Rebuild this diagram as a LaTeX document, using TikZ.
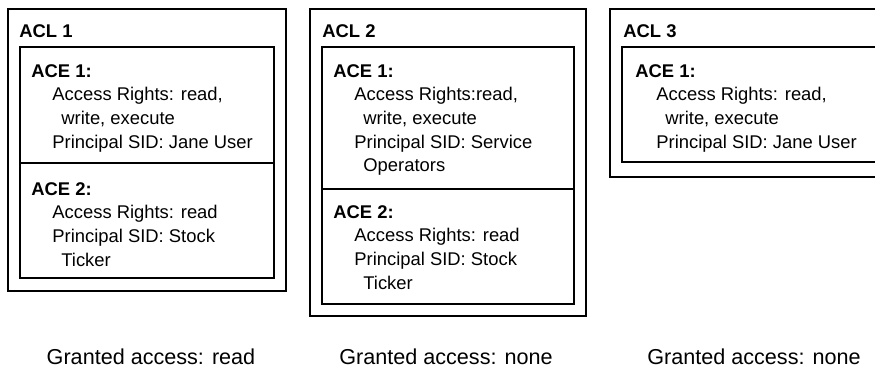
\documentclass[tikz,border=0pt]{standalone}
\usepackage{fontspec}
\setmainfont{Liberation Sans}

\newcommand{\lvlone}{\hspace*{10.5pt}}
\newcommand{\lvltwo}{\hspace*{15pt}}

\tikzset{
  box/.style={line width=1.1pt},
  acltitle/.style={anchor=base west, inner sep=0pt, font=\fontsize{9.2}{11.8}\selectfont\bfseries},
  entry/.style={anchor=north west, inner sep=0pt, align=left, font=\fontsize{9.2}{11.8}\selectfont},
  verdict/.style={anchor=base, inner sep=0pt, font=\fontsize{10.8}{13}\selectfont}
}

\begin{document}
\begin{tikzpicture}[x=0.5pt,y=0.5pt]
    \useasboundingbox (0,0) rectangle (875,367);
    \clip (0,0) rectangle (875,367);

    % ACL 1
    \draw[box] (8,76) rectangle (286,358);
    \draw[box] (20,89) rectangle (274,320);
    \draw[box] (20,204) -- (274,204);
    \node[acltitle] (acl1) at (19,329) {ACL 1};
    \node[entry] (acl1ace1) at (31,303) {\textbf{ACE 1:}\\
        \lvlone Access Rights: read,\\
        \lvltwo write, execute\\
        \lvlone Principal SID: Jane User};
    \node[entry] (acl1ace2) at (31,185) {\textbf{ACE 2:}\\
        \lvlone Access Rights: read\\
        \lvlone Principal SID: Stock\\
        \lvltwo Ticker};

    % ACL 2
    \draw[box] (310,51) rectangle (586,358);
    \draw[box] (322,63) rectangle (574,320);
    \draw[box] (322,178) -- (574,178);
    \node[acltitle] (acl2) at (322,329) {ACL 2};
    \node[entry] (acl2ace1) at (333,303) {\textbf{ACE 1:}\\
        \lvlone Access Rights:read,\\
        \lvltwo write, execute\\
        \lvlone Principal SID: Service\\
        \lvltwo Operators};
    \node[entry] (acl2ace2) at (333,162) {\textbf{ACE 2:}\\
        \lvlone Access Rights: read\\
        \lvlone Principal SID: Stock\\
        \lvltwo Ticker};

    % ACL 3 (runs past the right edge)
    \draw[box] (610,190) rectangle (889,358);
    \draw[box] (622,205) rectangle (877,320);
    \node[acltitle] (acl3) at (623,329) {ACL 3};
    \node[entry] (acl3ace1) at (635,303) {\textbf{ACE 1:}\\
        \lvlone Access Rights: read,\\
        \lvltwo write, execute\\
        \lvlone Principal SID: Jane User};

    % result of each check
    \node[verdict] (grant1) at (151,2.5) {Granted access: read};
    \node[verdict] (grant2) at (446,2.5) {Granted access: none};
    \node[verdict] (grant3) at (754,2.5) {Granted access: none};
\end{tikzpicture}
\end{document}
